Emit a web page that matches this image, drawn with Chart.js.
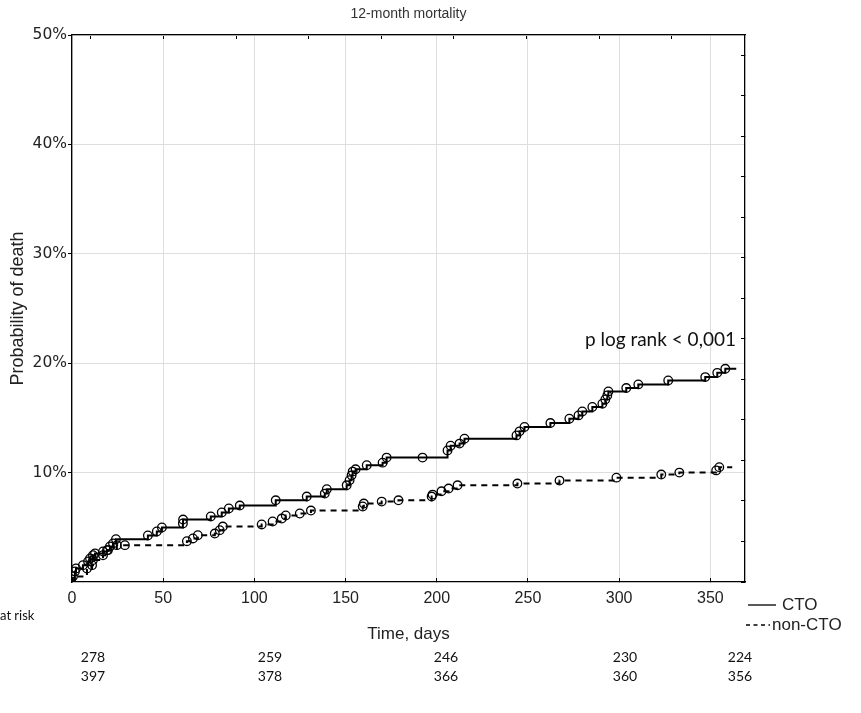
<!DOCTYPE html>
<html>
<head>
<meta charset="utf-8">
<title>12-month mortality</title>
<script src="https://cdn.jsdelivr.net/npm/chart.js@4/dist/chart.umd.min.js"></script>
<style>
  body { margin: 0; background: #fff; }
  canvas { display: block; }
</style>
</head>
<body>
<canvas id="kmChart" width="861" height="713"></canvas>
<script>
// CTO group (solid line), days and cumulative mortality in %
const ctoDays = [0, 1.6, 2.2, 6.0, 8.8, 9.9, 11.5, 12.6, 17, 19.2, 20.8, 22.5, 24.1, 41.6, 46.5, 49.3,
  60.8, 60.9, 76.1, 82.1, 86, 92, 111.7, 128.7, 138.6, 139.7, 150.6, 152.2, 153.3, 153.9, 155.5,
  161.6, 170.3, 172.5, 192.2, 205.9, 207.6, 212.5, 215.2, 243.7, 245.4, 248.1, 262.3, 272.7, 277.7,
  279.8, 285.3, 290.8, 292.4, 293.5, 294.1, 303.9, 310.5, 326.9, 347.2, 353.8, 358.2, 364.2];
const ctoPct = [0, 0.97, 1.24, 1.54, 1.88, 2.15, 2.45, 2.61, 2.79, 2.91, 3.25, 3.52, 3.91, 4.25, 4.62, 4.98,
  5.35, 5.71, 5.99, 6.36, 6.72, 6.99, 7.47, 7.81, 8.08, 8.48, 8.84, 9.30, 9.75, 10.09, 10.3,
  10.67, 10.91, 11.37, 11.37, 12.03, 12.46, 12.65, 13.1, 13.4, 13.77, 14.17, 14.53, 14.93, 15.23,
  15.59, 16.0, 16.3, 16.69, 17.05, 17.42, 17.73, 18.06, 18.42, 18.73, 19.12, 19.49, 19.49];

// non-CTO group (dashed line)
const nonCtoDays = [0, 0.5, 8.2, 11, 11.5, 17, 19.7, 24.6, 29, 63, 66.3, 69, 78.3, 81, 82.7, 104, 110,
  115, 117.2, 124.9, 131, 159.4, 160, 169.8, 179, 197.2, 197.7, 202.6, 206.5, 211.4, 244.2, 267.3,
  298.5, 323.1, 333, 353.2, 354.9, 362];
const nonCtoPct = [0, 0.51, 1.24, 1.54, 2.0, 2.45, 2.91, 3.37, 3.37, 3.73, 3.98, 4.28, 4.43, 4.74, 5.07,
  5.26, 5.53, 5.80, 6.08, 6.26, 6.53, 6.90, 7.17, 7.35, 7.47, 7.81, 7.99, 8.29, 8.54, 8.84, 9.0, 9.27,
  9.54, 9.82, 10.0, 10.2, 10.5, 10.5];

// numbers at risk
const atRiskCto = [278, 259, 246, 230, 224];
const atRiskNonCto = [397, 378, 366, 360, 356];
const atRiskColX = [93, 270, 446, 625, 740];

const seriesNames = ['CTO', 'non-CTO'];
const chartTitle = '12-month mortality';
const pText = 'p log rank < 0,001';

function toPoints(xs, ys) {
  return xs.map((x, i) => ({ x: x, y: ys[i] }));
}

// no circle on the first and last point (start and end of follow-up)
function markerRadius(ctx) {
  const n = ctx.dataset.data.length;
  return (ctx.dataIndex === 0 || ctx.dataIndex === n - 1) ? 0 : 4.3;
}

const extraText = {
  id: 'extraText',
  afterDraw(chart) {
    const ctx = chart.ctx;
    const area = chart.chartArea;
    ctx.save();
    ctx.textBaseline = 'middle';

    // title, centred over the plot area
    ctx.fillStyle = '#333';
    ctx.font = '14px "Liberation Sans"';
    ctx.textAlign = 'center';
    ctx.fillText(chartTitle, (area.left + area.right) / 2, 14);

    ctx.fillStyle = '#111';
    // log rank annotation
    ctx.font = '19px Lato';
    ctx.textAlign = 'right';
    ctx.fillText(pText, 736, 340);

    // legend
    ctx.strokeStyle = '#000';
    ctx.lineWidth = 1.3;
    ctx.beginPath();
    ctx.moveTo(748, 605);
    ctx.lineTo(776, 605);
    ctx.stroke();
    ctx.setLineDash([4, 3.5]);
    ctx.beginPath();
    ctx.moveTo(746, 625);
    ctx.lineTo(770, 625);
    ctx.stroke();
    ctx.setLineDash([]);
    ctx.fillStyle = '#222';
    ctx.font = '17px "Liberation Sans"';
    ctx.textAlign = 'left';
    ctx.fillText(seriesNames[0], 782, 605);
    ctx.fillText(seriesNames[1], 772, 625);

    // at risk table
    ctx.fillStyle = '#111';
    ctx.font = '13px Lato';
    ctx.fillText('at risk', 0, 616);
    ctx.font = '14px Lato';
    ctx.textAlign = 'center';
    atRiskColX.forEach((x, i) => {
      ctx.fillText(String(atRiskCto[i]), x, 657);
      ctx.fillText(String(atRiskNonCto[i]), x, 676);
    });
    ctx.restore();
  }
};

Chart.defaults.font.family = '"Liberation Sans", Arial, sans-serif';
Chart.defaults.color = '#222';

const ctx = document.getElementById('kmChart').getContext('2d');
const kmChart = new Chart(ctx, {
  type: 'line',
  data: {
    datasets: [
      {
        label: seriesNames[0],
        data: toPoints(ctoDays, ctoPct),
        stepped: 'before',
        borderColor: '#000',
        borderWidth: 2,
        pointStyle: 'circle',
        pointRadius: markerRadius,
        pointBorderColor: '#000',
        pointBackgroundColor: 'rgba(0,0,0,0)',
        pointBorderWidth: 1.3,
        fill: false
      },
      {
        label: seriesNames[1],
        data: toPoints(nonCtoDays, nonCtoPct),
        stepped: 'before',
        borderColor: '#000',
        borderWidth: 2,
        borderDash: [6, 5],
        pointStyle: 'circle',
        pointRadius: markerRadius,
        pointBorderColor: '#000',
        pointBackgroundColor: 'rgba(0,0,0,0)',
        pointBorderWidth: 1.3,
        fill: false
      }
    ]
  },
  options: {
    responsive: false,
    animation: false,
    devicePixelRatio: 1,
    layout: { padding: { left: 0, right: 116, top: 35, bottom: 61 } },
    plugins: {
      legend: { display: false },
      tooltip: { enabled: false },
      title: { display: false }
    },
    scales: {
      x: {
        type: 'linear',
        position: 'bottom',
        min: 0,
        max: 369,
        ticks: {
          stepSize: 50,
          includeBounds: false,
          padding: 11,
          color: '#222',
          font: { size: 16 }
        },
        grid: { color: '#dedede', tickColor: '#000', tickLength: -4 },
        border: { color: '#000', width: 1.3 },
        title: {
          display: true,
          text: 'Time, days',
          color: '#222',
          font: { size: 17 },
          padding: { bottom: 7 }
        },
        afterFit: (s) => { s.height = 70; }
      },
      x2: {
        type: 'linear',
        position: 'top',
        min: -0.261,
        max: 9.01,
        ticks: { display: false, stepSize: 1, includeBounds: false },
        grid: { drawOnChartArea: false, tickColor: '#000', tickLength: -4 },
        border: { color: '#000', width: 1.3 },
        afterFit: (s) => { s.height = 0; }
      },
      y: {
        type: 'linear',
        position: 'left',
        min: 0,
        max: 50,
        ticks: {
          stepSize: 10,
          padding: 1,
          color: '#222',
          font: { family: '"DejaVu Sans"', size: 15.5 },
          callback: (v) => (v === 0 ? null : v + '%')
        },
        grid: { color: '#dedede', tickColor: '#000', tickLength: 4 },
        border: { color: '#000', width: 1.3 },
        title: {
          display: true,
          text: 'Probability of death',
          color: '#222',
          font: { size: 18 },
          padding: { top: 7 }
        },
        afterFit: (s) => { s.width = 72; }
      },
      y2: {
        type: 'linear',
        position: 'right',
        min: 0,
        max: 13.5,
        ticks: { display: false, stepSize: 1, includeBounds: false },
        grid: { drawOnChartArea: false, tickColor: '#000', tickLength: -4 },
        border: { color: '#000', width: 1.3 },
        afterFit: (s) => { s.width = 0; }
      }
    }
  },
  plugins: [extraText]
});
</script>
</body>
</html>
